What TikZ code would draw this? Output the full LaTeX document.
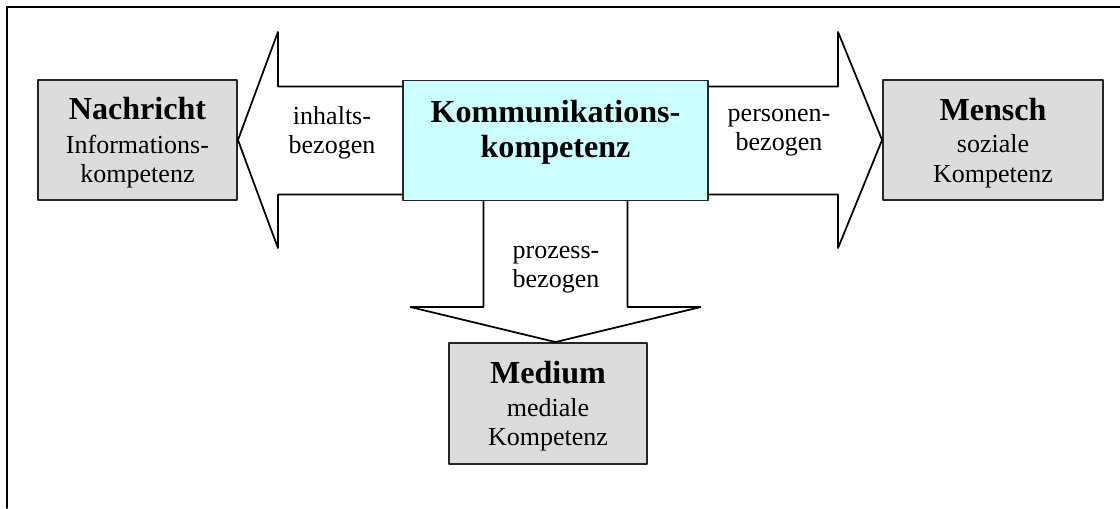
\documentclass[tikz,border=0pt]{standalone}
\usepackage{fontspec}
\setmainfont{Liberation Serif}

\definecolor{kastengrau}{HTML}{DCDCDC}
\definecolor{kerncyan}{HTML}{CCFFFF}
\newcommand\kopf{\fontsize{13.7}{15}\selectfont\bfseries}
\newcommand\fliess{\fontsize{11.1}{12.5}\selectfont}

\begin{document}
\begin{tikzpicture}[line cap=round,line join=round,every node/.style={inner sep=1pt},
  ziel/.style={draw=black!85,line width=0.8pt,fill=kastengrau,minimum height=1.8cm,text depth=0pt,align=center,font=\fliess},
  kern/.style={draw=black!85,line width=0.8pt,fill=kerncyan,minimum height=1.8cm,align=center,font=\kopf},
  pfeil/.style={line width=0.75pt},
  bezug/.style={align=center,font=\fliess}]
  \useasboundingbox (0,0) rectangle (16.8,7.62);
  \draw[line width=0.85pt] (0.105,0) -- (0.105,7.515) -- (16.8,7.515);

  \node[ziel,minimum width=2.985cm] (nachricht) at (2.0625,5.52) {{\kopf Nachricht}\\[1.7pt]Informations-\\kompetenz};
  \node[kern,minimum width=4.575cm,text depth=3.4mm] (kommunikation) at (8.3325,5.5125) {Kommunikations-\\kompetenz};
  \node[ziel,minimum width=3.3cm] (mensch) at (14.895,5.52) {{\kopf Mensch}\\[1.4pt]soziale\\Kompetenz};
  \node[ziel,minimum width=2.97cm,minimum height=1.815cm] (medium) at (8.22,1.5675) {{\kopf Medium}\\[1.4pt]mediale\\Kompetenz};

  \draw[pfeil] (nachricht.east) -- ([shift={(0.6,1.62)}]nachricht.east) |- ([yshift=8.1mm]kommunikation.west)
    ([yshift=-8.1mm]kommunikation.west) -| ([shift={(0.6,-1.62)}]nachricht.east) -- (nachricht.east);
  \draw[pfeil] (mensch.west) -- ([shift={(-0.66,1.62)}]mensch.west) |- ([yshift=8.1mm]kommunikation.east)
    ([yshift=-8.1mm]kommunikation.east) -| ([shift={(-0.66,-1.62)}]mensch.west) -- (mensch.west);
  \coordinate (spitze) at (kommunikation.south |- medium.north);
  \draw[pfeil] (spitze) -- ([shift={(-2.175,0.525)}]spitze) -| ([xshift=-10.8mm]kommunikation.south)
    ([xshift=10.8mm]kommunikation.south) |- ([shift={(2.175,0.525)}]spitze) -- (spitze);

  \node[bezug] (inhalt) at (4.98,5.63) {inhalts-\\bezogen};
  \node[bezug] (person) at (11.685,5.63) {personen-\\bezogen};
  \node[bezug] (prozess) at (8.34,3.58) {prozess-\\bezogen};
\end{tikzpicture}
\end{document}
